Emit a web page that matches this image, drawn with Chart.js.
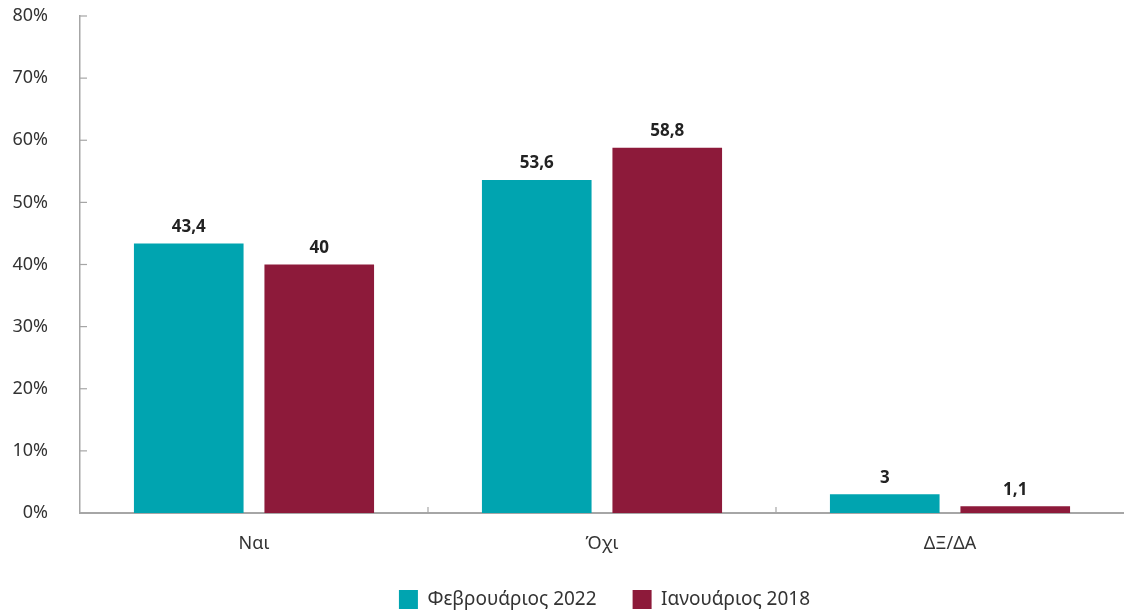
<!DOCTYPE html>
<html>
<head>
<meta charset="utf-8">
<script src="https://cdn.jsdelivr.net/npm/chart.js@4"></script>
<style>
  html, body { margin: 0; padding: 0; background: #fff; }
  #wrap { width: 1124px; height: 611px; }
</style>
</head>
<body>
<div id="wrap"><canvas id="chart"></canvas></div>
<script>
const categories = ['Ναι', 'Όχι', 'ΔΞ/ΔΑ'];
const feb2022 = [43.4, 53.6, 3];
const jan2018 = [40, 58.8, 1.1];
const seriesNames = ['Φεβρουάριος 2022', 'Ιανουάριος 2018'];

const FONT = '"Noto Sans", sans-serif';
const axisGrey = '#a6a6a6';

// tick marks drawn on the inner side of both axes, plus the value labels
const extras = {
    id: 'extras',
    afterLayout(c) {
        // centre the legend under the plot area rather than the whole canvas
        c.legend.left = c.chartArea.left + 5;
    },
    afterDatasetsDraw(c) {
        const ctx = c.ctx;
        const x = c.scales.x, y = c.scales.y;
        ctx.save();
        ctx.strokeStyle = axisGrey;
        ctx.lineWidth = 1.2;
        y.ticks.forEach(t => {
            const py = y.getPixelForValue(t.value);
            ctx.beginPath();
            ctx.moveTo(x.left, py);
            ctx.lineTo(x.left + 7, py);
            ctx.stroke();
        });
        for (let i = 1; i < categories.length; i++) {
            const px = (x.getPixelForValue(i - 1) + x.getPixelForValue(i)) / 2;
            ctx.beginPath();
            ctx.moveTo(px, y.bottom);
            ctx.lineTo(px, y.bottom - 6);
            ctx.stroke();
        }
        ctx.fillStyle = '#222';
        ctx.font = 'bold 17px ' + FONT;
        ctx.textAlign = 'center';
        ctx.textBaseline = 'bottom';
        c.data.datasets.forEach((ds, di) => {
            c.getDatasetMeta(di).data.forEach((bar, i) => {
                ctx.fillText(String(ds.data[i]).replace('.', ','), bar.x, bar.y - 8);
            });
        });
        ctx.restore();
    }
};

new Chart(document.getElementById('chart'), {
    type: 'bar',
    data: {
        labels: categories,
        datasets: [
            { label: seriesNames[0], data: feb2022, backgroundColor: '#00a4b0' },
            { label: seriesNames[1], data: jan2018, backgroundColor: '#8d1a3a' }
        ]
    },
    options: {
        responsive: true,
        maintainAspectRatio: false,
        animation: false,
        categoryPercentage: 0.75,
        barPercentage: 0.84,
        layout: { padding: { top: 16, right: 0, left: 0, bottom: -8 } },
        scales: {
            x: {
                grid: { display: false },
                border: { color: axisGrey, width: 2 },
                ticks: { color: '#333', font: { family: FONT, size: 18 }, padding: 12 },
                afterFit(s) { s.height = 41; s.paddingLeft = 0; s.paddingRight = 0; }
            },
            y: {
                min: 0,
                max: 80,
                grid: { display: false },
                border: { color: axisGrey, width: 1.5 },
                ticks: {
                    stepSize: 10,
                    color: '#333',
                    font: { family: FONT, size: 18 },
                    padding: 24,
                    callback: v => v + '%'
                },
                afterFit(s) { s.width = 80; s.paddingTop = 0; s.paddingBottom = 0; }
            }
        },
        plugins: {
            legend: {
                position: 'bottom',
                labels: {
                    color: '#333',
                    font: { family: FONT, size: 19 },
                    boxWidth: 19,
                    boxHeight: 19,
                    padding: 36
                }
            },
            tooltip: { enabled: false }
        }
    },
    plugins: [extras]
});
</script>
</body>
</html>
